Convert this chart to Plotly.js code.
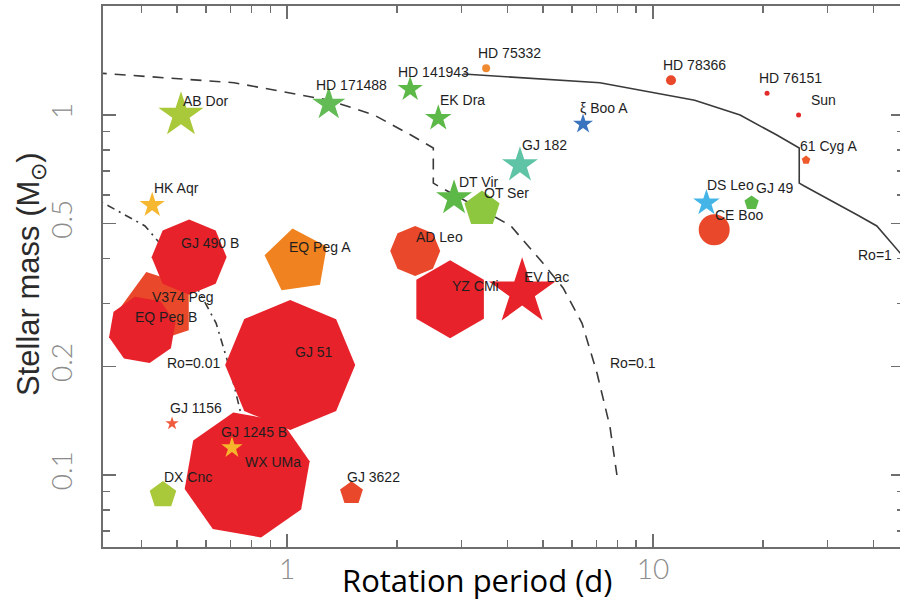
<!DOCTYPE html>
<html><head><meta charset="utf-8">
<script src="https://cdn.plot.ly/plotly-3.0.1.min.js"></script>
<style>html,body{margin:0;padding:0;overflow:hidden;background:#fff}#chart{width:904px;height:602px}</style>
</head><body><div id="chart"></div>
<script>
// ---- data ----
const starNames = ["V374 Peg","GJ 490 B","EQ Peg B","EQ Peg A","GJ 51","WX UMa","GJ 1245 B","GJ 1156","DX Cnc","GJ 3622",
  "AB Dor","HK Aqr","AD Leo","YZ CMi","EV Lac","DT Vir","OT Ser","GJ 182","HD 171488","HD 141943",
  "EK Dra","HD 75332","ξ Boo A","HD 78366","HD 76151","Sun","61 Cyg A","DS Leo","GJ 49","CE Boo"];
const periods = [0.444,0.54,0.402,1.065,1.02,0.778,0.707,0.485,0.458,1.50,
  0.513,0.428,2.24,2.79,4.39,2.86,3.41,4.33,1.30,2.17,
  2.59,3.50,6.44,11.2,20.5,25.0,26.2,14.0,18.6,14.7];
const masses = [0.291,0.403,0.253,0.393,0.202,0.100,0.119,0.139,0.088,0.089,
  1.0,0.562,0.419,0.308,0.322,0.588,0.548,0.726,1.073,1.18,
  0.98,1.35,0.944,1.25,1.15,1.0,0.75,0.57,0.57,0.48];

// Rossby number curves
const ro1Period = [3.03,7.16,13.0,17.3,21.8,25.1,25.1,25.9,36.3,40.9,50.0,56.8,64.0,70.3,76.3,79.7];
const ro1Mass   = [1.30,1.23,1.10,1.00,0.88,0.81,0.647,0.635,0.527,0.492,0.388,0.331,0.264,0.192,0.136,0.100];
const ro01Period = [0.30,0.716,1.30,1.73,2.18,2.51,2.51,2.59,3.63,4.09,5.00,5.68,6.40,7.03,7.63,7.97];
const ro01Mass   = [1.31,1.23,1.10,1.00,0.88,0.81,0.647,0.635,0.527,0.492,0.388,0.331,0.264,0.192,0.136,0.100];
const ro001Period = [0.259,0.363,0.409,0.500,0.568,0.640,0.703,0.763,0.797];
const ro001Mass   = [0.635,0.527,0.492,0.388,0.331,0.264,0.192,0.136,0.100];
const roLabels = ["Ro=0.01","Ro=0.1","Ro=1"];
const roLabelPeriod = [0.464,7.54,35.9];
const roLabelMass = [0.205,0.205,0.408];

// ticks
const xMajorTicks = [1,10];
const xTickLabels = ["1","10"];
const xMinorTicks = [0.4,0.5,0.6,0.7,0.8,0.9,2,3,4,5,6,7,8,9,20,30,40];
const yMajorTicks = [0.1,0.2,0.5,1];
const yTickLabels = ["0.1","0.2","0.5","1"];
const yMinorTicks = [0.07,0.08,0.09,0.3,0.4,0.6,0.7,0.8,0.9];

// ---- styles ----
const RED = "#e8222a", ORED = "#e9482a", GREEN = "#5cb947", YGREEN = "#a9c83a";
const markerSymbols = ["pentagon","octagon","octagon","pentagon","octagon","octagon","star","star","pentagon","pentagon",
  "star","star","octagon","hexagon","star","star","pentagon","star","star","star",
  "star","circle","star","circle","circle","circle","pentagon","star","pentagon","circle"];
const markerAngles = [-18,22.5,10,-8,22.5,10,0,0,0,0, 0,0,22.5,0,0,0,0,0,0,0, 0,0,0,0,0,0,0,0,0,0];
const markerSizes = [76,75,68,66,130,128,16,10,28,24,
  34,19,50,78,50,27,37,27,25,19,
  20,8,15,10,5,5,9,20,15,31];
const markerColors = [ORED,RED,RED,"#f0821f",RED,RED,"#f6b52a","#ef5b3c",YGREEN,ORED,
  YGREEN,"#f6b731",ORED,RED,RED,GREEN,"#8dc63f","#5fc4a6","#62bb55",GREEN,
  GREEN,"#ef8a30","#3a74bf",ORED,"#e52a2a","#e52a2a","#ef5a2a","#45b5e8",GREEN,ORED];
const labelDx = [-8,-10,-9,-10,3,-4,-13,-4,-1,-6, 0,0,-1,0,0,3,0,0,-15,-14, 0,-10,-5,-10,-10,10,-8,-1,2,-1];
const labelDy = [11,14,13,14,13,13,16,16,18,16, 14,17,14,13,15,16,16,20,19,17, 18,15,16,15,15,15,14,18,15,15];

const lineColor = "#3a3a3a";
const traces = [
  {x: ro01Period, y: ro01Mass, mode: "lines", line: {color: lineColor, width: 1.6, dash: "11px,8px"}, hoverinfo: "skip"},
  {x: ro001Period, y: ro001Mass, mode: "lines", line: {color: lineColor, width: 1.6, dash: "8px,5px,2px,5px"}, hoverinfo: "skip"},
  {x: ro1Period, y: ro1Mass, mode: "lines", line: {color: lineColor, width: 1.6}, hoverinfo: "skip"},
  {x: periods, y: masses, mode: "markers", text: starNames,
   marker: {symbol: markerSymbols, size: markerSizes, color: markerColors, angle: markerAngles, line: {width: 0}, opacity: 1}}
];

const PW = 904 - 103, PH = 602 - 6 - 55;
const labelFont = {family: "Liberation Sans, Arial, sans-serif", size: 14, color: "#1e1e1e"};
const annotations = starNames.map((n, i) => ({
  x: Math.log10(periods[i]), y: Math.log10(masses[i]), xref: "x", yref: "y",
  text: n, showarrow: false, xanchor: "left", yanchor: "middle",
  xshift: labelDx[i], yshift: labelDy[i], font: labelFont
}));
roLabels.forEach((t, i) => annotations.push({
  x: Math.log10(roLabelPeriod[i]), y: Math.log10(roLabelMass[i]), xref: "x", yref: "y",
  text: t, showarrow: false, xanchor: "left", yanchor: "middle", font: labelFont
}));
// axis titles placed as in the reference
annotations.push({
  x: (477 - 103) / PW, y: (547 - 580) / PH, xref: "paper", yref: "paper",
  text: "Rotation period (d)", showarrow: false, borderpad: 0,
  xanchor: "center", yanchor: "middle", font: {family: "Open Sans, sans-serif", size: 31, color: "#000"}
});
annotations.push({
  x: (31 - 103) / PW, y: (547 - 274) / PH, xref: "paper", yref: "paper",
  text: "Stellar mass (M<sub>⊙</sub>)", showarrow: false, textangle: -90, borderpad: 0,
  xanchor: "center", yanchor: "middle", font: {family: "Liberation Sans, Arial, sans-serif", size: 31, color: "#2b2b2b"}
});

const axisCommon = {
  type: "log", showline: true, linecolor: "#6e6e6e", linewidth: 2, mirror: "ticks",
  ticks: "inside", ticklen: 13, tickwidth: 1.5, tickcolor: "#6e6e6e",
  showgrid: false, zeroline: false,
  tickfont: {family: "Lato, sans-serif", size: 28, color: "#8c8c8c", weight: 300}
};

const layout = {
  width: 904, height: 602,
  margin: {l: 103, r: 0, t: 6, b: 55},
  paper_bgcolor: "#fff", plot_bgcolor: "#fff",
  showlegend: false,
  xaxis: Object.assign({}, axisCommon, {
    range: [-0.503, 1.686], tickmode: "array", tickvals: xMajorTicks, ticktext: xTickLabels,
    ticklabelstandoff: -4,
    minor: {tickmode: "array", tickvals: xMinorTicks, ticks: "inside", ticklen: 7, tickwidth: 1.5, tickcolor: "#6e6e6e", showgrid: false}
  }),
  yaxis: Object.assign({}, axisCommon, {
    range: [-1.2, 0.303], tickmode: "array", tickvals: yMajorTicks, ticktext: yTickLabels,
    tickangle: -90, ticklabelstandoff: 18,
    minor: {tickmode: "array", tickvals: yMinorTicks, ticks: "inside", ticklen: 7, tickwidth: 1.5, tickcolor: "#6e6e6e", showgrid: false}
  }),
  annotations: annotations
};

Plotly.newPlot("chart", traces, layout, {displayModeBar: false, staticPlot: true});
</script></body></html>
